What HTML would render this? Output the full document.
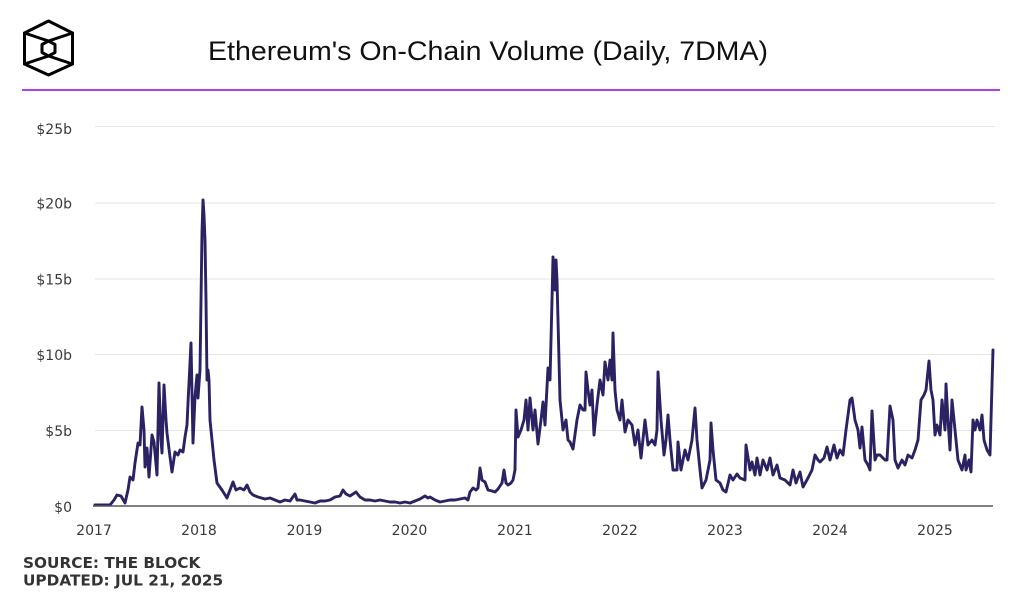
<!DOCTYPE html>
<html>
<head>
<meta charset="utf-8">
<style>
  html,body{margin:0;padding:0;background:#fff;}
  body{width:1024px;height:597px;overflow:hidden;}
  svg{display:block;}
  .ax{font-family:"DejaVu Sans","Liberation Sans",sans-serif;font-size:14px;fill:#3a3a3a;}
  .src{font-family:"DejaVu Sans","Liberation Sans",sans-serif;font-size:15.3px;font-weight:bold;fill:#333;}
  .title{font-family:"Liberation Sans","DejaVu Sans",sans-serif;font-size:27px;fill:#111;}
</style>
</head>
<body>
<svg width="1024" height="597" viewBox="0 0 1024 597" xmlns="http://www.w3.org/2000/svg">
  <rect x="0" y="0" width="1024" height="597" fill="#fff"/>
  <!-- logo -->
  <g fill="none" stroke="#000" stroke-width="3" stroke-linejoin="round" stroke-linecap="round">
    <polygon points="48.5,21 72.5,33 72.5,64 48.5,75 24.5,64 24.5,33"/>
    <polygon points="48.5,41 55,44.5 55,52.5 48.5,56 42,52.5 42,44.5"/>
    <polyline points="24.5,33 48.5,41 72.5,33"/>
    <polyline points="24.5,64 48.5,56 72.5,64"/>
  </g>
  <!-- title -->
  <text class="title" x="208" y="60" textLength="560" lengthAdjust="spacingAndGlyphs">Ethereum's On-Chain Volume (Daily, 7DMA)</text>
  <!-- purple rule -->
  <line x1="22" y1="90" x2="1000" y2="90" stroke="#b340e6" stroke-width="2"/>
  <!-- gridlines -->
  <g stroke="#e6e6e6" stroke-width="1">
    <line x1="95" y1="126.5" x2="995" y2="126.5"/>
    <line x1="95" y1="203" x2="995" y2="203"/>
    <line x1="95" y1="279" x2="995" y2="279"/>
    <line x1="95" y1="354.5" x2="995" y2="354.5"/>
    <line x1="95" y1="430.5" x2="995" y2="430.5"/>
  </g>
  <!-- y labels -->
  <g class="ax" text-anchor="end">
    <text x="72" y="134">$25b</text>
    <text x="72" y="208.5">$20b</text>
    <text x="72" y="284.5">$15b</text>
    <text x="72" y="360">$10b</text>
    <text x="72" y="436">$5b</text>
    <text x="72" y="512">$0</text>
  </g>
  <!-- series -->
  <polyline fill="none" stroke="#2a2263" stroke-width="2.9" stroke-linejoin="round" stroke-linecap="round" points="
95,505 110,505 114,500 117,495 121,496 125,503 128,490 130,477 133,480 135,463 138,443 140,445 142,407 144,430 145,467 147,448 149,477 152,435 154,442 157,475 159,383 161,440 162,453 164,385 166,420 167,433 170,457 172,472 175,452 178,455 180,450 183,452 185,437 187,425 188,403 191,343 193,443 195,397 197,375 198,398 200,370 202,232 203,200 204,215 205,240 206,300 207,380 208,370 209,380 210,420 212,440 214,460 217,483 222,490 227,498 230,490 233,482 236,490 240,488 244,490 247,485 250,492 253,495 258,497 265,499 270,498 275,500 280,502 285,500 290,501 295,494 297,500 300,500 305,501 310,502 315,503 320,501 325,501 330,500 335,497 340,496 343,490 346,494 350,496 353,494 356,492 360,497 365,500 370,500 375,501 380,500 385,501 390,502 395,502 400,503 405,502 410,503 415,501 420,499 425,496 428,498 430,497 435,500 440,502 445,501 450,500 455,500 460,499 465,498 468,500 470,492 473,488 476,490 478,488 480,468 482,480 485,482 488,490 492,491 495,492 498,489 500,486 502,483 504,470 506,483 508,485 511,483 513,480 515,470 516,410 518,437 521,430 524,420 526,400 528,430 530,398 533,430 535,410 538,444 541,420 543,402 545,425 548,368 550,380 551,340 552,300 553,257 554,275 555,290 556,260 557,280 558,320 560,400 563,430 566,420 568,440 570,442 573,449 577,420 580,405 583,410 585,410 586,372 588,390 590,405 592,390 594,435 597,405 600,380 603,395 605,362 608,380 610,360 612,380 613,333 615,390 617,410 620,420 622,400 625,432 628,420 632,425 635,445 638,430 641,458 645,420 648,445 652,440 655,445 657,430 658,372 661,420 664,455 666,440 668,415 670,440 673,470 677,470 678,442 681,470 685,450 688,460 692,440 695,408 697,440 700,470 702,488 706,480 710,460 711,423 713,450 716,480 720,483 723,490 726,492 730,475 733,480 737,474 740,478 745,480 746,445 750,470 752,462 755,475 757,458 760,475 763,460 767,470 770,458 773,475 777,465 780,478 785,480 790,485 793,470 796,483 800,472 803,487 808,478 812,470 815,455 818,460 820,462 824,458 827,447 830,460 834,445 837,458 840,450 843,455 846,430 850,400 852,398 855,420 858,430 860,448 862,427 865,460 868,465 870,470 872,411 875,460 877,455 880,455 885,460 887,460 890,406 893,420 895,460 898,468 902,460 905,465 908,455 912,458 915,450 918,440 921,400 924,395 926,390 929,361 931,390 933,400 935,435 937,425 940,435 942,400 945,430 946,384 948,420 950,450 952,400 955,430 958,460 962,470 965,455 966,470 969,460 971,472 973,420 975,430 977,420 980,430 982,415 984,440 987,450 990,455 991,420 993,350"/>
  <!-- baseline axis -->
  <line x1="93" y1="506" x2="993" y2="506" stroke="#555" stroke-width="1.5"/>
  <!-- x labels -->
  <g class="ax" text-anchor="middle">
    <text x="94" y="535">2017</text>
    <text x="199" y="535">2018</text>
    <text x="304.5" y="535">2019</text>
    <text x="409.5" y="535">2020</text>
    <text x="515" y="535">2021</text>
    <text x="620" y="535">2022</text>
    <text x="725" y="535">2023</text>
    <text x="830" y="535">2024</text>
    <text x="935" y="535">2025</text>
  </g>
  <!-- source -->
  <text class="src" x="23" y="568">SOURCE: THE BLOCK</text>
  <text class="src" x="23" y="585.5">UPDATED: JUL 21, 2025</text>
</svg>
</body>
</html>
